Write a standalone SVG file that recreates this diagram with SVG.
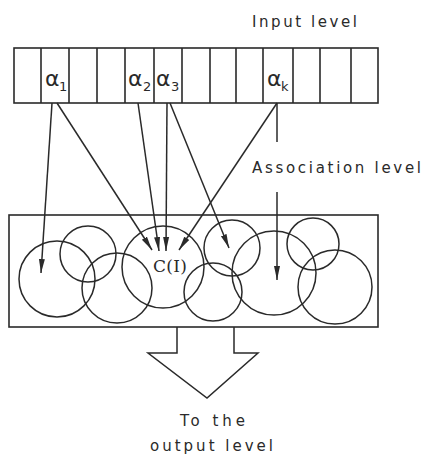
<svg xmlns="http://www.w3.org/2000/svg" width="424" height="456" viewBox="0 0 424 456">
<style>
.ln{stroke:#2a2a2a;stroke-width:1.5;fill:none}
.cell{stroke:#2a2a2a;stroke-width:1.6;fill:none}
.lbl{font-family:"DejaVu Sans",Verdana,sans-serif;font-size:15px;fill:#2a2a2a}
.al{font-family:"DejaVu Sans",sans-serif;font-size:22px;fill:#2a2a2a}
.sub{font-family:"DejaVu Sans",sans-serif;font-size:13px;fill:#2a2a2a}
.ci{font-family:"DejaVu Serif","Liberation Serif",serif;font-size:17px;fill:#2a2a2a}
</style>
<defs>
<marker id="ah" markerUnits="userSpaceOnUse" markerWidth="15" markerHeight="8" refX="14" refY="3.5" orient="auto">
<path d="M0,0.5 L14,3.5 L0,6.5 z" fill="#2a2a2a"/>
</marker>
</defs>
<rect width="424" height="456" fill="#fff"/>
<g id="input-level">
<rect class="cell" x="14" y="48" width="364" height="55"/>
<path class="cell" d="M41,48V103M69,48V103M97,48V103M125,48V103M154,48V103M182,48V103M210,48V103M236,48V103M263,48V103M293,48V103M320,48V103M351,48V103"/>
<text class="lbl" x="252" y="27" textLength="105">Input level</text>
<text class="al" x="45" y="86">α</text><text class="sub" x="59" y="91">1</text>
<text class="al" x="128" y="86">α</text><text class="sub" x="143" y="91">2</text>
<text class="al" x="156" y="86">α</text><text class="sub" x="171" y="91">3</text>
<text class="al" x="267" y="86">α</text><text class="sub" x="281" y="91">k</text>
</g>
<g id="association-level">
<rect class="cell" x="9" y="215" width="369" height="112"/>
<circle class="ln" cx="57" cy="279" r="38"/>
<circle class="ln" cx="88" cy="254" r="28"/>
<circle class="ln" cx="117" cy="288" r="35"/>
<circle class="ln" cx="163" cy="267" r="41"/>
<circle class="ln" cx="213" cy="292" r="29"/>
<circle class="ln" cx="232" cy="248" r="28"/>
<circle class="ln" cx="274" cy="273" r="42"/>
<circle class="ln" cx="313" cy="244" r="26"/>
<circle class="ln" cx="335" cy="287" r="37"/>
<text class="ci" x="153" y="272" textLength="34">C(I)</text>
<text class="lbl" x="252" y="173" textLength="169">Association level</text>
</g>
<g id="connectors">
<line class="ln" x1="52" y1="103" x2="41" y2="273" marker-end="url(#ah)"/>
<line class="ln" x1="57" y1="103" x2="152" y2="250" marker-end="url(#ah)"/>
<line class="ln" x1="138" y1="103" x2="159" y2="251" marker-end="url(#ah)"/>
<line class="ln" x1="167" y1="103" x2="166" y2="251" marker-end="url(#ah)"/>
<line class="ln" x1="170" y1="103" x2="229" y2="248" marker-end="url(#ah)"/>
<line class="ln" x1="277" y1="103" x2="179" y2="250" marker-end="url(#ah)"/>
<line class="ln" x1="277" y1="103" x2="277" y2="142"/>
<line class="ln" x1="277" y1="192" x2="277" y2="280" marker-end="url(#ah)"/>
</g>
<g id="output-arrow">
<polyline class="ln" points="177,327 177,353 148,353 207,398 258,353 234,353 234,327"/>
<text class="lbl" x="180" y="426" textLength="65">To the</text>
<text class="lbl" x="150" y="451" textLength="123">output level</text>
</g>
</svg>
